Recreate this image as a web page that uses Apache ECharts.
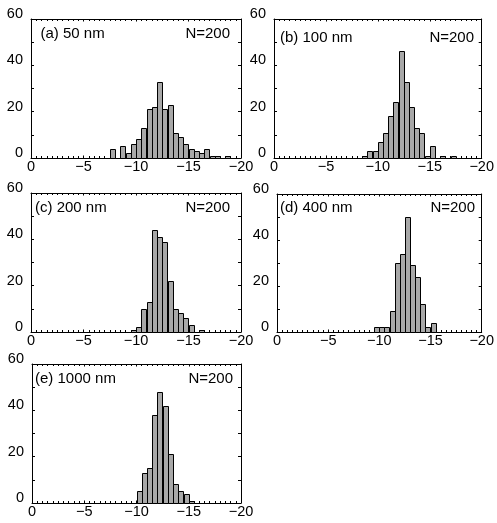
<!DOCTYPE html>
<html>
<head>
<meta charset="utf-8">
<script src="https://cdn.jsdelivr.net/npm/echarts@6/dist/echarts.min.js"></script>
<style>
  html, body { margin: 0; padding: 0; background: #fff; }
  #chart { width: 497px; height: 523px; }
</style>
</head>
<body>
<div id="chart"></div>
<script>
// Left edge of each 0.5-wide histogram bin (shared by all panels)
const binLeft = [-7.5, -8, -8.5, -9, -9.5, -10, -10.5, -11, -11.5, -12, -12.5, -13,
                 -13.5, -14, -14.5, -15, -15.5, -16, -16.5, -17, -17.5, -18, -18.5];
const binWidth = 0.5;

// Counts per bin for each sample size
const counts50   = [4, 0, 5, 2, 6, 8, 13, 21, 22, 33, 21, 23, 11, 9, 6, 4, 3, 2, 4, 1, 1, 0, 1];
const counts100  = [0, 0, 1, 3, 3, 7, 11, 18, 24, 46, 33, 22, 13, 11, 1, 5, 0, 1, 0, 1, 0, 0, 0];
const counts200  = [0, 0, 0, 0, 1, 2, 10, 13, 44, 41, 39, 22, 10, 8, 6, 3, 0, 1, 0, 0, 0, 0, 0];
const counts400  = [0, 0, 0, 0, 2, 2, 2, 9, 30, 34, 50, 29, 24, 12, 2, 4, 0, 0, 0, 0, 0, 0, 0];
const counts1000 = [0, 0, 0, 0, 0, 5, 13, 15, 38, 48, 42, 21, 8, 5, 4, 1, 0, 0, 0, 0, 0, 0, 0];

const panelTitles = ['(a) 50 nm', '(b) 100 nm', '(c) 200 nm', '(d) 400 nm', '(e) 1000 nm'];
const panelNote = 'N=200';
const panelCounts = [counts50, counts100, counts200, counts400, counts1000];

// Axis ranges and tick steps
const xRange = [-20, 0], xStep = 5;
const yRange = [0, 60], yStep = 20;

// Panel layout (pixels)
const layout = [
  { left: 31,  top: 19,  width: 210, height: 139, tx: 40.5, ty: 26.5, nx: 230 },
  { left: 274, top: 19,  width: 211, height: 139, tx: 280,  ty: 30,   nx: 474 },
  { left: 31,  top: 193, width: 210, height: 139, tx: 35,   ty: 200,  nx: 230 },
  { left: 277, top: 194, width: 208, height: 138, tx: 280,  ty: 200,  nx: 475 },
  { left: 32,  top: 364, width: 209, height: 139, tx: 35,   ty: 371,  nx: 233 }
];

const FONT = 'Arial, "Liberation Sans", Helvetica, sans-serif';
const minusFmt = v => (v < 0 ? '\u2212' + Math.abs(v) : String(v));

const chart = echarts.init(document.getElementById('chart'), null, { renderer: 'canvas' });

const grid = [], xAxis = [], yAxis = [], series = [], graphic = [];

layout.forEach((g, i) => {
  grid.push({ left: g.left, top: g.top, width: g.width, height: g.height });

  const lineStyle = { color: '#000', width: 1 };
  const xBase = {
    type: 'value', gridIndex: i, min: xRange[0], max: xRange[1], interval: xStep,
    inverse: true, splitLine: { show: false },
    axisLine: { show: true, onZero: false, lineStyle },
    axisTick: { show: true, inside: true, length: 2.5, lineStyle },
    minorTick: { show: true, splitNumber: 10, length: 2, lineStyle }
  };
  xAxis.push(Object.assign({}, xBase, {
    position: 'bottom',
    axisLabel: { show: true, formatter: minusFmt, color: '#000', fontSize: 14.5,
                 fontFamily: FONT, margin: 1, hideOverlap: false }
  }));
  xAxis.push(Object.assign({}, xBase, { position: 'top', axisLabel: { show: false } }));

  const yBase = {
    type: 'value', gridIndex: i, min: yRange[0], max: yRange[1], interval: yStep,
    splitLine: { show: false },
    axisLine: { show: true, onZero: false, lineStyle },
    axisTick: { show: true, inside: true, length: 3, lineStyle },
    minorTick: { show: true, splitNumber: 2, length: 3, lineStyle }
  };
  yAxis.push(Object.assign({}, yBase, {
    position: 'left',
    axisLabel: { show: true, color: '#000', fontSize: 14.5, fontFamily: FONT,
                 margin: 8, verticalAlign: 'bottom', lineHeight: 10 }
  }));
  yAxis.push(Object.assign({}, yBase, { position: 'right', axisLabel: { show: false } }));

  const data = [];
  panelCounts[i].forEach((c, j) => {
    if (c > 0) data.push([binLeft[j], binLeft[j] - binWidth, c]);
  });

  series.push({
    type: 'custom',
    xAxisIndex: 2 * i,
    yAxisIndex: 2 * i,
    data,
    encode: { x: [0, 1], y: 2 },
    renderItem: (params, api) => {
      const p0 = api.coord([api.value(0), api.value(2)]);
      const p1 = api.coord([api.value(1), 0]);
      const x = Math.round(Math.min(p0[0], p1[0])) + 0.5;
      const w = Math.round(Math.abs(p1[0] - p0[0]));
      const y = Math.round(p0[1]) + 0.5;
      const h = Math.round(p1[1]) - Math.round(p0[1]);
      return {
        type: 'rect',
        shape: { x, y, width: w, height: h },
        style: { fill: '#a8a8a8', stroke: '#000', lineWidth: 1 }
      };
    }
  });

  graphic.push({
    type: 'text', left: g.tx, top: g.ty, z: 10,
    style: { text: panelTitles[i], fill: '#000', font: '15px ' + FONT }
  });
  graphic.push({
    type: 'text', z: 10, x: g.nx, y: g.ty,
    style: { text: panelNote, fill: '#000', font: '15px ' + FONT, align: 'right', verticalAlign: 'top' }
  });
});

chart.setOption({
  animation: false,
  backgroundColor: '#fff',
  grid, xAxis, yAxis, series, graphic
});
</script>
</body>
</html>
